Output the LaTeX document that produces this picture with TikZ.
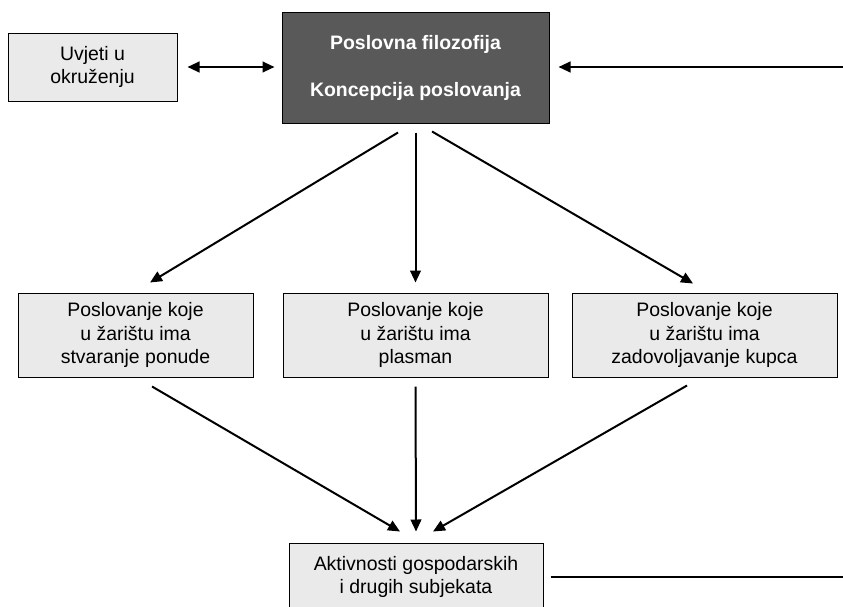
\documentclass[tikz,border=0pt]{standalone}
\usepackage{fontspec}
\setmainfont{Liberation Sans}
\usetikzlibrary{shapes, arrows.meta, positioning}
\definecolor{boxgray}{HTML}{EAEAEA}
\definecolor{darkgray}{HTML}{595959}
\tikzstyle{block} = [draw, fill=boxgray, rectangle, line width=0.75pt, align=center, inner sep=0pt, font=\fontsize{14.6pt}{17.4pt}\selectfont]
\tikzstyle{darkblock} = [draw, fill=darkgray, rectangle, line width=0.75pt, align=center, inner sep=0pt, text=white, font=\bfseries\fontsize{14.6pt}{17.4pt}\selectfont]
\tikzstyle{link} = [->, line width=1.5pt]

\begin{document}
\begin{tikzpicture}[x=0.75pt, y=-0.75pt, >={Triangle[length=9pt,width=8pt]}]
  \useasboundingbox (0,0) rectangle (843,607);
  \node[block, minimum width=126.75pt, minimum height=51pt] (env) at (92.5,67) {Uvjeti u\\okruženju};
  \node[darkblock, minimum width=200.25pt, minimum height=83.25pt] (phil) at (415.5,67.5) {Poslovna filozofija\\[17.8pt]Koncepcija poslovanja};
  \node[block, minimum width=176.25pt, minimum height=63pt] (offer) at (135.5,335) {Poslovanje koje\\u žarištu ima\\stvaranje ponude};
  \node[block, minimum width=198.75pt, minimum height=63pt] (place) at (415.5,335) {Poslovanje koje\\u žarištu ima\\plasman};
  \node[block, minimum width=198.75pt, minimum height=63pt] (buyer) at (704.5,335) {Poslovanje koje\\u žarištu ima\\zadovoljavanje kupca};
  \node[block, minimum width=190.5pt, minimum height=51pt] (act) at (416,577) {Aktivnosti gospodarskih\\i drugih subjekata};
  \coordinate (rin) at (843,67);
  \coordinate (rout) at (843,577);
  % top row
  \draw[<->, line width=1.5pt, shorten <=7.5pt, shorten >=5.25pt] (env) -- (env -| phil.west);
  \draw[link, shorten >=6.75pt] (rin) -- (rin -| phil.east);
  % philosophy to the three kinds of business
  \draw[link] ([xshift=-13.1pt, yshift=-6.75pt]phil.south) -- ([xshift=10.9pt, yshift=7.5pt]offer.north);
  \draw[link] ([yshift=-6.75pt]phil.south) -- ([yshift=7.5pt]place.north);
  \draw[link] ([xshift=12.4pt, yshift=-6pt]phil.south) -- ([xshift=-8.6pt, yshift=6.75pt]buyer.north);
  % down to the activities
  \draw[link] ([xshift=12.4pt, yshift=-6.75pt]offer.south) -- ([xshift=-12pt, yshift=8.25pt]act.north);
  \draw[link] ([yshift=-6.75pt]place.south) -- ([yshift=8.25pt]act.north);
  \draw[link] ([xshift=-13.1pt, yshift=-6pt]buyer.south) -- ([xshift=12.75pt, yshift=8.25pt]act.north);
  \draw[line width=1.5pt, shorten <=5.25pt] (act) -- (rout);
\end{tikzpicture}
\end{document}
